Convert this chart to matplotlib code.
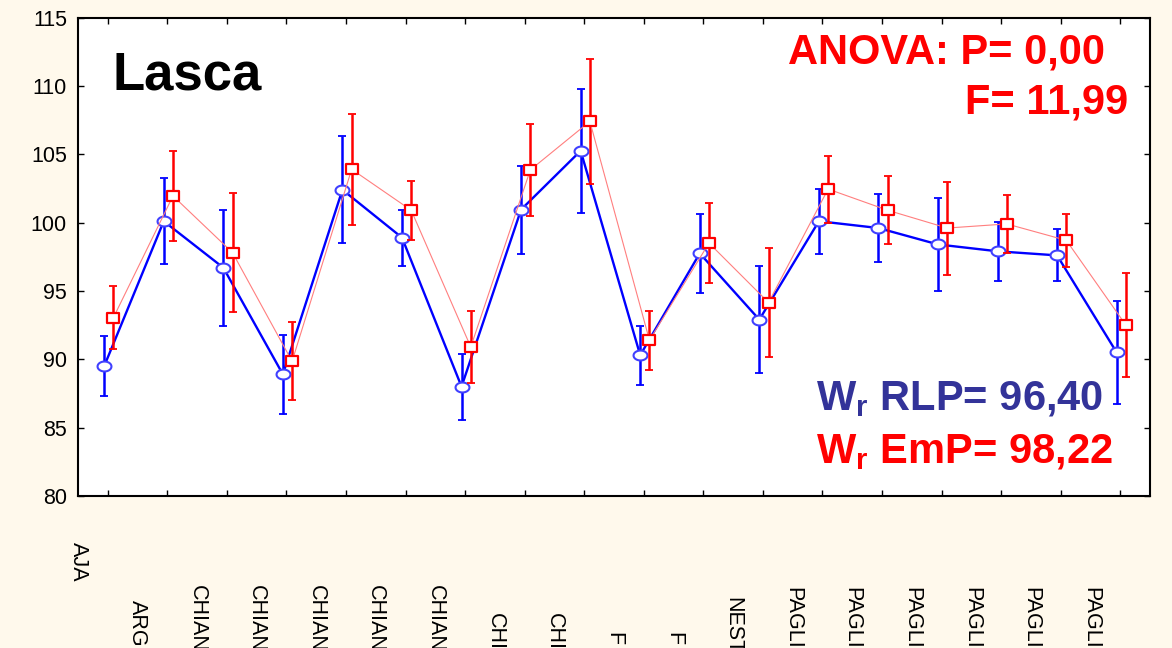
import numpy as np
import matplotlib
matplotlib.use('Agg')
import matplotlib.pyplot as plt
from matplotlib.path import Path
from matplotlib.transforms import blended_transform_factory

# category labels (only the visible part of each name)
labels = ['AJA', 'ARGI', 'CHIAN', 'CHIAN', 'CHIAN', 'CHIAN', 'CHIAN', 'CHI', 'CHI',
          'F', 'F', 'NEST', 'PAGLI', 'PAGLI', 'PAGLI', 'PAGLI', 'PAGLI', 'PAGLI']

# RLP (blue) means and error half-widths
rlp_mean = [89.5, 100.1, 96.7, 88.9, 102.4, 98.9, 88.0, 100.95, 105.25,
            90.3, 97.75, 92.9, 100.1, 99.6, 98.4, 97.9, 97.6, 90.5]
rlp_err = [2.2, 3.15, 4.25, 2.9, 3.9, 2.05, 2.42, 3.22, 4.53,
           2.15, 2.9, 3.9, 2.38, 2.5, 3.4, 2.17, 1.9, 3.75]

# EmP (red) means and error half-widths
emp_mean = [93.05, 101.95, 97.8, 89.85, 103.9, 100.9, 90.9, 103.85, 107.4,
            91.4, 98.5, 94.15, 102.45, 100.9, 99.6, 99.9, 98.7, 92.5]
emp_err = [2.3, 3.3, 4.35, 2.85, 4.05, 2.15, 2.6, 3.37, 4.6,
           2.15, 2.95, 4.0, 2.45, 2.5, 3.4, 2.15, 1.93, 3.83]

# top of each rotated label, pixels from the top of the figure
label_top_px = [542, 600, 585, 585, 585, 585, 585, 613, 613,
                632, 632, 597, 587, 587, 587, 587, 587, 587]

plt.rcParams['font.family'] = 'Liberation Sans'
plt.rcParams['mathtext.fontset'] = 'custom'
plt.rcParams['mathtext.bf'] = 'Liberation Sans:bold'
plt.rcParams['mathtext.rm'] = 'Liberation Sans'

W, H = 1172, 648
fig = plt.figure(figsize=(W / 100, H / 100), dpi=100, facecolor='#fff9ec')
ax = fig.add_axes([78 / W, 1 - 496 / H, (1150 - 78) / W, (496 - 17.5) / H])
ax.set_facecolor('white')

x = np.arange(len(labels))
xb = x - 0.06
xr = x + 0.095

t = np.linspace(0, 2 * np.pi, 60)
ellipse = Path(np.c_[1.4 * np.cos(t), np.sin(t)], closed=True)
rect = Path([(-1.35, -1), (1.35, -1), (1.35, 1), (-1.35, 1), (-1.35, -1)], closed=True)

ax.errorbar(xb, rlp_mean, yerr=rlp_err, fmt='none', ecolor='#0000ff',
            elinewidth=1.8, capsize=3, capthick=1.3, zorder=2)
ax.plot(xb, rlp_mean, color='#0000ff', lw=1.7, marker=ellipse, markersize=10,
        markerfacecolor='white', markeredgecolor='#4040ff', markeredgewidth=1.5, zorder=3)

ax.errorbar(xr, emp_mean, yerr=emp_err, fmt='none', ecolor='#ff0000',
            elinewidth=1.8, capsize=3, capthick=1.3, zorder=4)
ax.plot(xr, emp_mean, color='#ff7f7f', lw=0.8, zorder=4)
ax.plot(xr, emp_mean, ls='none', marker=rect, markersize=9.2,
        markerfacecolor='white', markeredgecolor='#ff0000', markeredgewidth=1.6, zorder=5)

ax.set_xlim(-0.5, len(labels) - 0.5)
ax.set_ylim(80, 115)
ax.set_yticks(np.arange(80, 116, 5))
ax.set_xticks(x)
ax.set_xticklabels([])
ax.tick_params(direction='in', length=4.5, width=1, top=True, right=True,
               labelsize=15.5, pad=8)
for s in ax.spines.values():
    s.set_linewidth(1.5)

trans = blended_transform_factory(ax.transData, fig.transFigure)
for i, lab in enumerate(labels):
    fig.text(i - 0.5, 1 - label_top_px[i] / H, lab, transform=trans, rotation=-90,
             ha='center', va='top', fontsize=15.5)

def px(xp, yp):
    return xp / W, 1 - yp / H

fig.text(*px(113, 90), 'Lasca', fontsize=38, fontweight='bold', color='black',
         ha='left', va='baseline')
fig.text(*px(1105, 63), 'ANOVA: P= 0,00', fontsize=30, fontweight='bold',
         color='#ff0000', ha='right', va='baseline')
fig.text(*px(1128, 114), 'F= 11,99', fontsize=30, fontweight='bold',
         color='#ff0000', ha='right', va='baseline')
fig.text(*px(1103, 410), r'$\mathbf{W_r}$ RLP= 96,40', fontsize=30, fontweight='bold',
         color='#333399', ha='right', va='baseline')
fig.text(*px(1113, 463), r'$\mathbf{W_r}$ EmP= 98,22', fontsize=30, fontweight='bold',
         color='#ff0000', ha='right', va='baseline')

fig.savefig('out.png', dpi=100, facecolor=fig.get_facecolor())
